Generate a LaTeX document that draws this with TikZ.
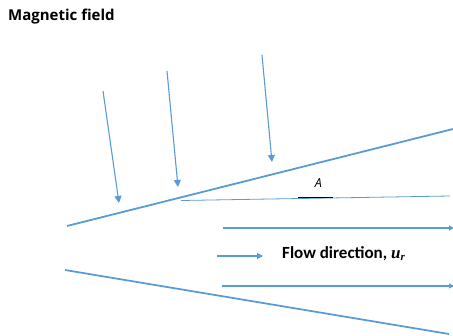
\documentclass[tikz,border=0pt]{standalone}
\usepackage{fontspec}
\setmainfont{Carlito}
\newfontfamily\itfont{Open Sans}
\newfontfamily\mathlike{Liberation Serif}
\usetikzlibrary{arrows.meta}
\definecolor{offblue}{HTML}{5B9BD5}
\tikzset{
  wall/.style={draw=offblue, line width=1.8pt},
  field/.style={draw=offblue, line width=1.1pt, -{Triangle[length=7pt,width=7pt]}},
  flow/.style={draw=offblue, line width=1.1pt, -{Triangle[length=5pt,width=5pt]}},
  thin/.style={draw=offblue, line width=0.8pt},
  lbl/.style={inner sep=0pt, font=\bfseries\fontsize{17}{18}\selectfont}
}
\begin{document}
\begin{tikzpicture}[x=1pt,y=-1pt]
\useasboundingbox (0,0) rectangle (453,336);
% title
\node[lbl, font=\itfont\bfseries\fontsize{15}{16}\selectfont, anchor=base west] (title) at (8,21) {Magnetic field};
% walls
\coordinate (uw1) at (67,226);
\coordinate (uw2) at (453,129);
\coordinate (lw1) at (65,270);
\coordinate (lw2) at (449,334);
\draw[wall] (uw1) -- (uw2);
\draw[wall] (lw1) -- (lw2);
% magnetic field arrows
\coordinate (f1s) at (103,91);  \coordinate (f1e) at (119,203);
\coordinate (f2s) at (167,71);  \coordinate (f2e) at (178,187);
\coordinate (f3s) at (262,55);  \coordinate (f3e) at (272,162);
\draw[field] (f1s) -- (f1e);
\draw[field] (f2s) -- (f2e);
\draw[field] (f3s) -- (f3e);
% line A
\coordinate (a1) at (181,200.5);
\coordinate (a2) at (450,196);
\draw[thin] (a1) -- (a2);
\node[inner sep=0pt, font=\itfont\itshape\fontsize{12.5}{13}\selectfont] (A) at (318.5,183.5) {A};
\coordinate (ab1) at (298,197.2);
\coordinate (ab2) at (333,197.2);
\draw[black, line width=1pt] (ab1) -- (ab2);
% flow arrows
\coordinate (fl1s) at (223,228); \coordinate (fl1e) at (454,228);
\coordinate (fl2s) at (217,256); \coordinate (fl2e) at (263,256);
\coordinate (fl3s) at (222,286); \coordinate (fl3e) at (454,286);
\draw[flow] (fl1s) -- (fl1e);
\draw[field, -{Triangle[length=6pt,width=6pt]}] (fl2s) -- (fl2e);
\draw[flow] (fl3s) -- (fl3e);
\node[lbl, anchor=base west] (flowlbl) at (282,258.5) {Flow direction, {\mathlike\bfseries\itshape u\raisebox{-2.5pt}{\fontsize{11}{12}\selectfont r}}};
\end{tikzpicture}
\end{document}
